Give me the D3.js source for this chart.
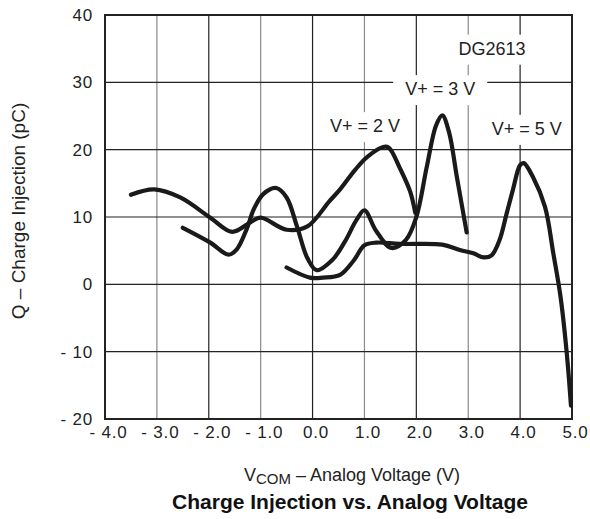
<!DOCTYPE html>
<html>
<head>
<meta charset="utf-8">
<script src="https://cdnjs.cloudflare.com/ajax/libs/d3/7.8.5/d3.min.js"></script>
<style>
  body { margin: 0; background: #fff; }
  text { font-family: "Liberation Sans", Arial, sans-serif; fill: #222; }
</style>
</head>
<body>
<div id="graph"></div>
<script>
// charge injection vs analog voltage, DG2613
var svgWidth = 590, svgHeight = 519;
var margin = {top: 15, right: 18, bottom: 100, left: 105};

var xTicks = [-4, -3, -2, -1, 0, 1, 2, 3, 4, 5];
var yTicks = [-20, -10, 0, 10, 20, 30, 40];

// V+ = 2 V
var v2X = [-3.5, -3.05, -2.55, -1.97, -1.55, -1.2, -1.0, -0.5, -0.1, 0.33, 0.53, 0.82, 1.05, 1.36, 1.47, 1.68, 1.88, 1.98];
var v2Y = [13.3, 14.1, 12.9, 9.9, 7.8, 9.2, 9.9, 8.1, 8.6, 12.4, 14.1, 17.0, 18.9, 20.4, 20.3, 17.3, 13.8, 10.6];

// V+ = 3 V
var v3X = [-2.5, -1.97, -1.62, -1.46, -1.27, -1.13, -0.95, -0.7, -0.5, -0.3, -0.1, 0.08, 0.38, 0.62, 0.85, 1.0, 1.22, 1.52, 1.8, 2.0, 2.2, 2.38, 2.5, 2.63, 2.78, 2.97];
var v3Y = [8.4, 6.2, 4.4, 5.2, 8.2, 11.2, 13.4, 14.3, 12.9, 8.6, 3.9, 2.1, 3.6, 6.3, 9.6, 11.0, 8.0, 5.4, 6.6, 10.0, 17.4, 23.6, 25.1, 22.6, 16.0, 7.7];

// V+ = 5 V
var v5X = [-0.5, -0.05, 0.2, 0.53, 0.79, 1.0, 1.23, 1.68, 2.5, 2.84, 3.1, 3.3, 3.45, 3.6, 3.74, 3.86, 4.0, 4.07, 4.25, 4.48, 4.64, 4.78, 4.9, 4.98];
var v5Y = [2.5, 1.0, 1.0, 1.4, 3.5, 5.8, 6.2, 6.0, 5.9, 5.1, 4.6, 4.0, 4.3, 6.5, 10.5, 14.0, 17.7, 18.0, 15.9, 11.5, 4.6, -1.9, -10.3, -18.0];

var series = [
  {name: "V+ = 2 V", xs: v2X, ys: v2Y},
  {name: "V+ = 3 V", xs: v3X, ys: v3Y},
  {name: "V+ = 5 V", xs: v5X, ys: v5Y}
];

// labels inside the plot: text, x value (centre), y value (baseline)
var noteText = ["DG2613", "V+ = 3 V", "V+ = 2 V", "V+ = 5 V"];
var noteX = [3.46, 2.46, 1.01, 4.13];
var noteY = [34.1, 28.1, 22.6, 22.2];

var svg = d3.select('#graph').append('svg')
  .attr("width", svgWidth)
  .attr("height", svgHeight);
var width = svgWidth - margin.left - margin.right;
var height = svgHeight - margin.top - margin.bottom;

var g = svg.append('g')
  .attr('transform', 'translate(' + margin.left + ',' + margin.top + ')');

var x = d3.scaleLinear().domain([-4, 5]).range([0, width]);
var y = d3.scaleLinear().domain([-20, 40]).range([height, 0]);

// grid
g.selectAll(".vgrid").data(xTicks.slice(1, -1)).enter().append("line")
  .attr("class", "vgrid")
  .attr("x1", function(d) { return x(d); })
  .attr("x2", function(d) { return x(d); })
  .attr("y1", 0).attr("y2", height)
  .attr("stroke", function(d) { return Math.abs(d) % 2 === 1 ? "#8a8a8a" : "#222"; })
  .attr("stroke-width", 1.2);

g.selectAll(".hgrid").data(yTicks.slice(1, -1)).enter().append("line")
  .attr("class", "hgrid")
  .attr("y1", function(d) { return y(d); })
  .attr("y2", function(d) { return y(d); })
  .attr("x1", 0).attr("x2", width)
  .attr("stroke", "#222")
  .attr("stroke-width", 1.2);

// white boxes under the notes
var notes = g.append("g");
noteText.forEach(function(t, i) {
  var box = notes.append("rect").attr("fill", "#fff");
  var txt = notes.append("text")
    .attr("x", x(noteX[i]))
    .attr("y", y(noteY[i]))
    .attr("text-anchor", "middle")
    .style("font-size", "18px")
    .text(t);
  var bb = txt.node().getBBox();
  box.attr("x", bb.x - 12).attr("y", bb.y - 4)
    .attr("width", bb.width + 24).attr("height", bb.height + 10);
});

// frame
g.append("rect")
  .attr("width", width).attr("height", height)
  .attr("fill", "none")
  .attr("stroke", "#222")
  .attr("stroke-width", 2);

// axes
var xAxis = g.append("g")
  .attr("transform", "translate(0," + height + ")")
  .call(d3.axisBottom(x).tickValues(xTicks).tickSize(0).tickPadding(7)
    .tickFormat(function(d) { return d < 0 ? "- " + d3.format(".1f")(-d) : d3.format(".1f")(d); }));
xAxis.select(".domain").remove();
xAxis.selectAll("text")
  .attr("dx", 3)
  .style("font-size", "17px")
  .style("letter-spacing", "0.8px")
  .attr("fill", "#222");

var yAxis = g.append("g")
  .call(d3.axisLeft(y).tickValues(yTicks).tickSize(0).tickPadding(12)
    .tickFormat(function(d) { return d < 0 ? "- " + (-d) : d; }));
yAxis.select(".domain").remove();
yAxis.selectAll("text")
  .style("font-size", "17px")
  .style("letter-spacing", "0.8px")
  .attr("fill", "#222");

// curves
var line = d3.line()
  .x(function(d) { return x(d[0]); })
  .y(function(d) { return y(d[1]); })
  .curve(d3.curveCatmullRom.alpha(0.5));

series.forEach(function(s) {
  g.append("path")
    .datum(s.xs.map(function(v, i) { return [v, s.ys[i]]; }))
    .attr("fill", "none")
    .attr("stroke", "#1a1a1a")
    .attr("stroke-width", 4.2)
    .attr("stroke-linejoin", "round")
    .attr("stroke-linecap", "round")
    .attr("d", line);
});

// axis titles
var xt = svg.append("text")
  .attr("x", 352)
  .attr("y", 481)
  .attr("text-anchor", "middle")
  .style("font-size", "18px");
xt.append("tspan").text("V");
xt.append("tspan").attr("dy", 2.5).style("font-size", "15px").text("COM");
xt.append("tspan").attr("dy", -2.5).text(" \u2013 Analog Voltage (V)");

svg.append("text")
  .attr("x", 350)
  .attr("y", 509)
  .attr("text-anchor", "middle")
  .style("font-size", "21px")
  .style("font-weight", "bold")
  .style("fill", "#111")
  .text("Charge Injection vs. Analog Voltage");

svg.append("text")
  .attr("transform", "translate(25,211) rotate(-90)")
  .attr("text-anchor", "middle")
  .style("font-size", "19px")
  .text("Q \u2013 Charge Injection (pC)");
</script>
</body>
</html>
